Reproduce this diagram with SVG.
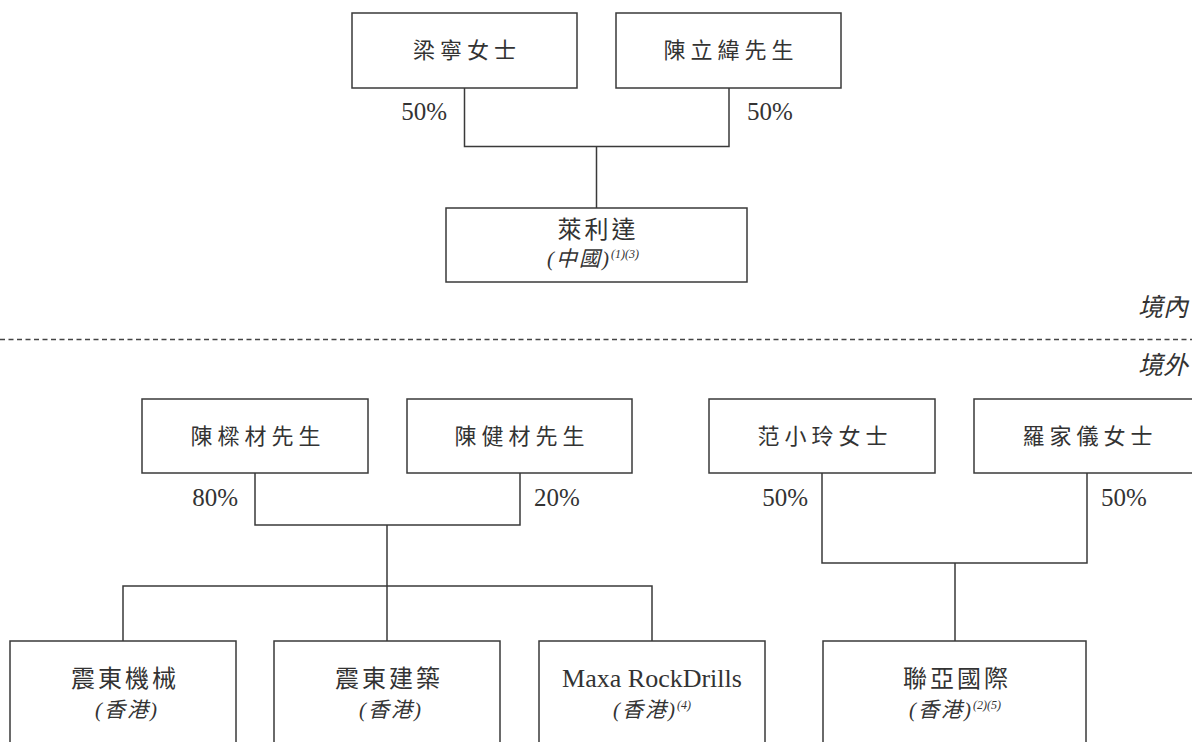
<svg xmlns="http://www.w3.org/2000/svg" width="1192" height="742" viewBox="0 0 1192 742">
<style>
.box{fill:#fff;stroke:#3a3a3a;stroke-width:1.5}
.ln{fill:none;stroke:#3a3a3a;stroke-width:1.5}
.dash{fill:none;stroke:#444;stroke-width:1.3;stroke-dasharray:5 3.5}
.nm{font-family:"Liberation Serif","Noto Sans CJK TC",serif;font-size:22px;fill:#333;text-anchor:middle;letter-spacing:5px}
.co{font-family:"Liberation Serif","Noto Sans CJK TC",serif;font-size:24px;fill:#333;text-anchor:middle;letter-spacing:3px}
.en{font-family:"Liberation Serif","Noto Sans CJK TC",serif;font-size:26px;fill:#333;text-anchor:middle}
.sub{font-family:"Liberation Serif","Noto Sans CJK TC",serif;font-size:21px;font-style:italic;fill:#333;text-anchor:middle;letter-spacing:2px}
.sup{font-size:12px;letter-spacing:0}
.pct{font-family:"Liberation Serif","Noto Sans CJK TC",serif;font-size:25px;fill:#333}
.reg{font-family:"Liberation Serif","Noto Sans CJK TC",serif;font-size:25px;font-style:italic;fill:#333;text-anchor:end}
</style>
<g id="connectors">
<path class="ln" d="M464.5 88V146.5H729V88M596.5 146.5V208"/>
<path class="ln" d="M255 473V525H520V473M387 525V641M123 641V586H652V641"/>
<path class="ln" d="M822 473V563H1087V473M955 563V641"/>
<line class="dash" x1="0" y1="339.5" x2="1192" y2="339.5"/>
</g>
<g id="node-liangning"><rect class="box" x="352" y="13" width="225" height="75"/><text class="nm" x="467" y="58">梁寧女士</text></g>
<g id="node-chenliwei"><rect class="box" x="616" y="13" width="225" height="75"/><text class="nm" x="731" y="58">陳立緯先生</text></g>
<g id="node-laileda"><rect class="box" x="446" y="208" width="301" height="74"/><text class="co" x="598" y="238">萊利達</text><text class="sub" x="593" y="266">(中國)<tspan class="sup" dy="-8">(1)(3)</tspan></text></g>
<g id="pct-top"><text class="pct" x="447" y="120" text-anchor="end">50%</text><text class="pct" x="747" y="120">50%</text></g>
<g id="region"><text class="reg" x="1188" y="316">境內</text><text class="reg" x="1188" y="374">境外</text></g>
<g id="node-chenlicai"><rect class="box" x="142" y="399" width="226" height="74"/><text class="nm" x="258" y="444">陳樑材先生</text></g>
<g id="node-chenjiancai"><rect class="box" x="407" y="399" width="225" height="74"/><text class="nm" x="522" y="444">陳健材先生</text></g>
<g id="node-fanxiaoling"><rect class="box" x="709" y="399" width="226" height="74"/><text class="nm" x="825" y="444">范小玲女士</text></g>
<g id="node-luojiayi"><rect class="box" x="974" y="399" width="226" height="74"/><text class="nm" x="1090" y="444">羅家儀女士</text></g>
<g id="pct-bottom"><text class="pct" x="238" y="506" text-anchor="end">80%</text><text class="pct" x="534" y="506">20%</text><text class="pct" x="808" y="506" text-anchor="end">50%</text><text class="pct" x="1101" y="506">50%</text></g>
<g id="node-zhendong-jixie"><rect class="box" x="10" y="641" width="226" height="120"/><text class="co" x="125" y="687">震東機械</text><text class="sub" x="127" y="717">(香港)</text></g>
<g id="node-zhendong-jianzhu"><rect class="box" x="274" y="641" width="226" height="120"/><text class="co" x="389" y="687">震東建築</text><text class="sub" x="391" y="717">(香港)</text></g>
<g id="node-maxa"><rect class="box" x="539" y="641" width="226" height="120"/><text class="en" x="652" y="687">Maxa RockDrills</text><text class="sub" x="652" y="717">(香港)<tspan class="sup" dy="-8">(4)</tspan></text></g>
<g id="node-lianya"><rect class="box" x="823" y="641" width="263" height="120"/><text class="co" x="957" y="687">聯亞國際</text><text class="sub" x="955" y="717">(香港)<tspan class="sup" dy="-8">(2)(5)</tspan></text></g>
</svg>
